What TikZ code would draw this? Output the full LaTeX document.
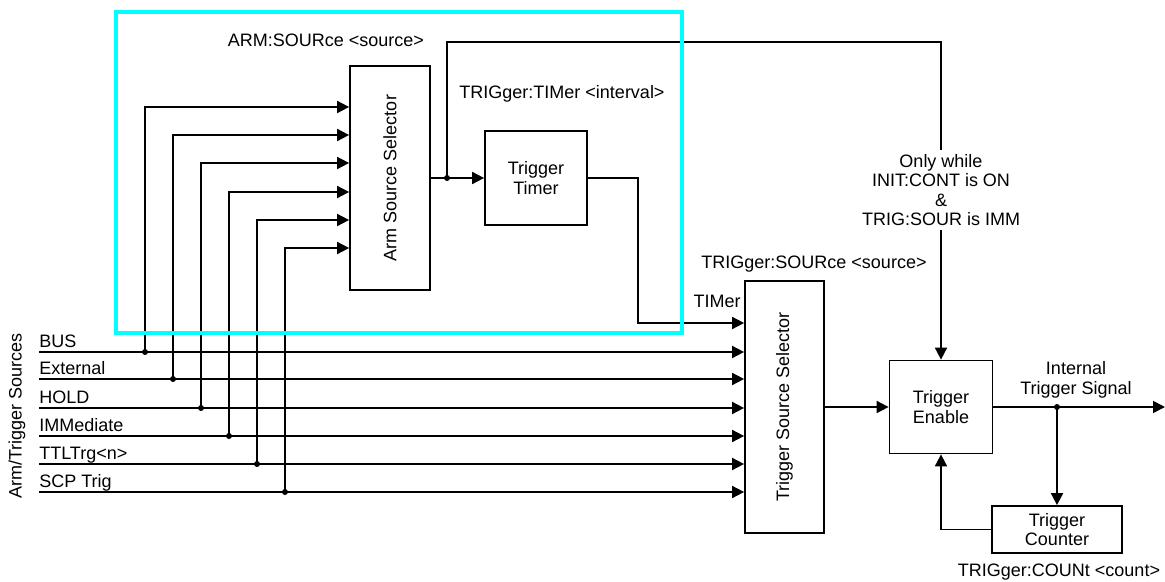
\documentclass[tikz,border=0pt]{standalone}
\usepackage{fontspec}
\setmainfont{Liberation Sans}
\usetikzlibrary{arrows.meta}
\definecolor{armcyan}{RGB}{0,255,255}

\begin{document}
\begin{tikzpicture}[x=0.75pt,y=-0.75pt,
  font=\fontsize{13.5}{14.5}\selectfont,
  blk/.style={draw,line width=1.3pt,inner sep=0pt,align=center},
  sig/.style={line width=1.3pt},
  arr/.style={sig,-{Triangle[length=9pt,width=9pt]}},
  jdot/.style={circle,fill,inner sep=0pt,minimum size=4.5pt},
  txt/.style={inner sep=0pt,align=center}]

  \useasboundingbox (0,0) rectangle (1165,582);

  \coordinate (TOP) at (941,42);
  \coordinate (TK)  at (638,323);
  \coordinate (OUT) at (1165,407);

  % blocks
  \node[blk,minimum width=60pt,minimum height=168pt] (arm) at (390,178)
    {\rotatebox{90}{Arm Source Selector}};
  \node[blk,minimum width=76.5pt,minimum height=70.5pt] (timer) at (536,178)
    {Trigger\\Timer};
  \node[blk,minimum width=59.25pt,minimum height=189pt] (tss) at (784.5,407)
    {\rotatebox{90}{Trigger Source Selector}};
  \node[blk,minimum width=77.25pt,minimum height=69.75pt] (enable) at (941,407)
    {Trigger\\Enable};
  \node[blk,minimum width=97.5pt,minimum height=35.25pt] (counter) at (1057,529.5)
    {Trigger\\Counter};

  % texts
  \node[txt] (armsrc) at (326,40) {ARM:SOURce <source>};
  \node[txt] (timint) at (562,94) {TRIGger:TIMer <interval>};
  \node[txt] (trgsrc) at (814,264) {TRIGger:SOURce <source>};
  \node[txt] (timlbl) at (717,301) {TIMer};
  \node[txt] (intsig) at (1076,380) {Internal\\Trigger Signal};
  \node[txt] (trgcnt) at (1059,572) {TRIGger:COUNt <count>};
  \node[txt,rotate=90] (srcs) at (17,416) {Arm/Trigger Sources};
  \node[txt,inner sep=3pt] (cond) at (941,190)
    {Only while\\INIT:CONT is ON\\\&\\TRIG:SOUR is IMM};

  % sources
  \foreach \i/\nm/\y/\x/\ya in {1/BUS/352/145/107, 2/External/379/173/135,
      3/HOLD/408/201/163, 4/IMMediate/436/229/192,
      5/TTLTrg<n>/464/257/220, 6/SCP Trig/492/285/248} {
    \coordinate (S\i) at (39,\y);
    \coordinate (A\i) at (300,\ya);
    \node[txt,anchor=base west] (s\i) at ([yshift=3.5pt]S\i) {\nm};
    \draw[arr] (S\i) -- (S\i -| tss.west);
    \node[jdot] (j\i) at (\x,\y) {};
    \draw[arr] (j\i.center) |- (arm.west |- A\i);
  }

  \node[jdot] (ja) at (447,178) {};
  \node[jdot] (jo) at (1057,407) {};

  \draw[arr] (arm.east) -- (timer.west);
  \draw[sig] (ja.center) |- (TOP) -- (cond.north);
  \draw[arr] (cond.south) -- (enable.north);
  \draw[arr] (timer.east) -| (TK) -- (TK -| tss.west);
  \draw[arr] (tss.east) -- (enable.west);
  \draw[arr] (enable.east) -- (OUT);
  \draw[arr] (jo.center) -- (counter.north);
  \draw[arr] (counter.west) -| (enable.south);

  \draw[armcyan,line width=2.6pt] (116,12) rectangle (682,333);

\end{tikzpicture}
\end{document}
